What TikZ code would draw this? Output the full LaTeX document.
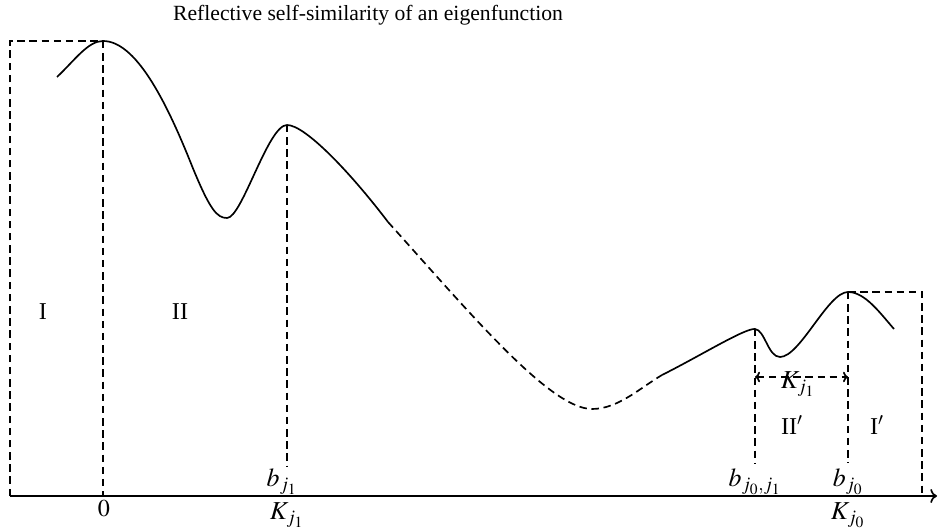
\documentclass[tikz,border=0pt,12pt]{standalone}
\usepackage{mathptmx}
\usepackage{fontspec}
\setmainfont{Liberation Serif}
\usepackage{tikz}
\usetikzlibrary{arrows.meta, positioning, calc}

\tikzset{
  curve/.style={line width=1pt},
  guide/.style={line width=1pt, dash pattern=on 4.5pt off 2.8pt},
  lbl/.style={inner sep=1pt, font=\fontsize{14.5}{16}\selectfont},
  mlbl/.style={inner sep=1pt, font=\fontsize{15.5}{17}\selectfont},
}

\begin{document}
\begin{tikzpicture}[x=0.6pt, y=0.6pt]
  \useasboundingbox (0,0) rectangle (939,528);

  % title
  \node[inner sep=1pt, font=\fontsize{13}{15}\selectfont] (title) at (368,513) {Reflective self-similarity of an eigenfunction};

  % axis
  \coordinate (ax0) at (10,32);
  \coordinate (ax1) at (937,32);
  \draw[line width=1pt, -{To[length=4pt]}] (ax0) -- (ax1);

  % key points
  \coordinate (p0) at (103,487);
  \coordinate (p1) at (287,403);
  \coordinate (q1) at (755,199);
  \coordinate (q0) at (848,236);

  % left box and right box
  \draw[guide] (10,32) -- (10,487) -- (p0);
  \draw[guide] (q0) -- (922,236) -- (922,32);

  % vertical guides
  \draw[guide] (p0) -- (103,32);
  \draw[guide] (p1) -- (287,61);
  \draw[guide] (q1) -- (755,65);
  \draw[guide] (q0) -- (848,65);

  % the eigenfunction
  \draw[curve] (57,451) .. controls (75,468) and (88,487) .. (p0)
    .. controls (135,487) and (165,430) .. (192,362)
    .. controls (210,318) and (217,310) .. (227,310)
    .. controls (242,310) and (268,403) .. (p1)
    .. controls (305,403) and (350,356) .. (388,306);
  \draw[guide] (388,306) .. controls (470,215) and (550,119) .. (592,119)
    .. controls (618,119) and (640,140) .. (662,153);
  \draw[curve] (662,153) .. controls (700,172) and (745,200) .. (q1)
    .. controls (765,198) and (768,171) .. (780,171)
    .. controls (800,171) and (828,236) .. (q0)
    .. controls (865,236) and (880,215) .. (894,199);

  % dilation arrow
  \coordinate (da) at (755,151);
  \coordinate (db) at (848,151);
  \draw[guide, {To[length=3pt]}-{To[length=3pt]}] (da) -- (db);
  \node[mlbl] (kj1) at (798,144) {$K_{j_1}$};

  % region labels
  \node[lbl] (rI) at (43,216) {I};
  \node[lbl] (rII) at (180,216) {II};
  \node[lbl] (rIIp) at (792,103) {II$'$};
  \node[lbl] (rIp) at (877,103) {I$'$};

  % axis labels
  \node[lbl] (zero) at (104,19) {$0$};
  \node[mlbl] (bj1) at (282,46) {$b_{j_1}$};
  \node[mlbl] (Kj1) at (287,13) {$K_{j_1}$};
  \node[mlbl] (bj0j1) at (755,46) {$b_{j_0,j_1}$};
  \node[mlbl] (bj0) at (848,46) {$b_{j_0}$};
  \node[mlbl] (Kj0) at (848,13) {$K_{j_0}$};
\end{tikzpicture}
\end{document}
